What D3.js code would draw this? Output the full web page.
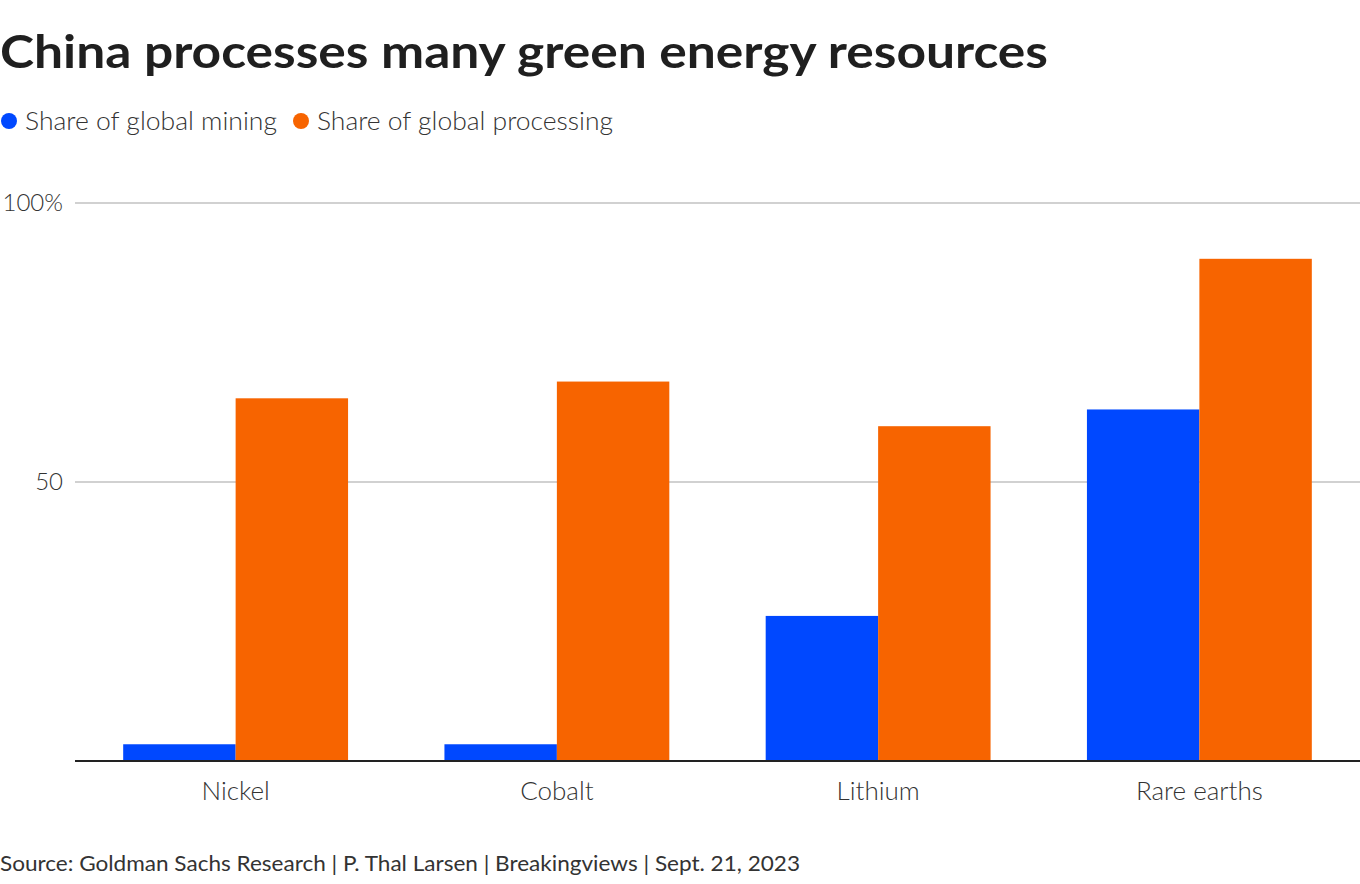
<!DOCTYPE html>
<html><head><meta charset="utf-8">
<script src="https://cdn.jsdelivr.net/npm/d3@7"></script>
<style>
html,body{margin:0;padding:0;background:#fff;}
svg{display:block;}
</style></head>
<body>
<script>
const categories = ["Nickel", "Cobalt", "Lithium", "Rare earths"];
const seriesNames = ["Share of global mining", "Share of global processing"];
const mining = [3, 3, 26, 63];
const processing = [65, 68, 60, 90];
const yTicks = [0, 50, 100];
const yTickLabels = ["", "50", "100%"];
const colors = ["#0048ff", "#f76400"];

const W = 1360, H = 884;
const svg = d3.select("body").append("svg").attr("width", W).attr("height", H);
const font = "Lato, 'Source Sans Pro', sans-serif";

svg.append("text").attr("x", 0).attr("y", 68)
  .attr("font-family", font).attr("font-weight", 700).attr("font-size", 46)
  .attr("fill", "#1f1f1f").attr("textLength", 1048).attr("lengthAdjust", "spacingAndGlyphs")
  .text("China processes many green energy resources");

// legend
const legX = [9, 301];
const legW = [252, 296];
seriesNames.forEach((s, i) => {
  svg.append("circle").attr("cx", legX[i]).attr("cy", 121).attr("r", 8).attr("fill", colors[i]);
  svg.append("text").attr("x", legX[i] + 16).attr("y", 130)
    .attr("font-family", font).attr("font-weight", 300).attr("font-size", 26)
    .attr("fill", "#333").attr("textLength", legW[i]).attr("lengthAdjust", "spacingAndGlyphs").text(s);
});

const x0 = d3.scaleBand().domain(categories).range([75, 1360]).paddingInner(0.3).paddingOuter(0.15);
const x1 = d3.scaleBand().domain([0, 1]).range([0, x0.bandwidth()]);
const y = d3.scaleLinear().domain([0, 100]).range([761, 203]);

// gridlines
svg.append("g").selectAll("line").data(yTicks.filter(d => d > 0)).join("line")
  .attr("x1", 75).attr("x2", 1360).attr("y1", d => y(d)).attr("y2", d => y(d))
  .attr("stroke", "#c2c2c2").attr("stroke-width", 1.5);

svg.append("g").selectAll("text").data(yTicks).join("text")
  .attr("x", 63).attr("y", d => y(d)).attr("dy", "0.35em").attr("text-anchor", "end")
  .attr("font-family", font).attr("font-weight", 300).attr("font-size", 24).attr("fill", "#333")
  .text((d, i) => yTickLabels[i]);

// bars
const data = categories.map((c, i) => ({c, v: [mining[i], processing[i]]}));
const g = svg.append("g").selectAll("g").data(data).join("g")
  .attr("transform", d => `translate(${x0(d.c)},0)`);
g.selectAll("rect").data(d => d.v.map((v, k) => ({v, k}))).join("rect")
  .attr("x", d => x1(d.k)).attr("width", x1.bandwidth())
  .attr("y", d => y(d.v)).attr("height", d => y(0) - y(d.v))
  .attr("fill", d => colors[d.k]);

// baseline
svg.append("line").attr("x1", 75).attr("x2", 1360).attr("y1", y(0)).attr("y2", y(0))
  .attr("stroke", "#222").attr("stroke-width", 2);

// x labels
svg.append("g").selectAll("text").data(categories).join("text")
  .attr("x", d => x0(d) + x0.bandwidth() / 2).attr("y", 800).attr("text-anchor", "middle")
  .attr("font-family", font).attr("font-weight", 300).attr("font-size", 26).attr("fill", "#333")
  .text(d => d);

svg.append("text").attr("x", 0).attr("y", 871)
  .attr("font-family", font).attr("font-weight", 400).attr("font-size", 22).attr("fill", "#333")
  .attr("textLength", 800).attr("lengthAdjust", "spacingAndGlyphs")
  .text("Source: Goldman Sachs Research | P. Thal Larsen | Breakingviews | Sept. 21, 2023");
</script>
</body></html>
